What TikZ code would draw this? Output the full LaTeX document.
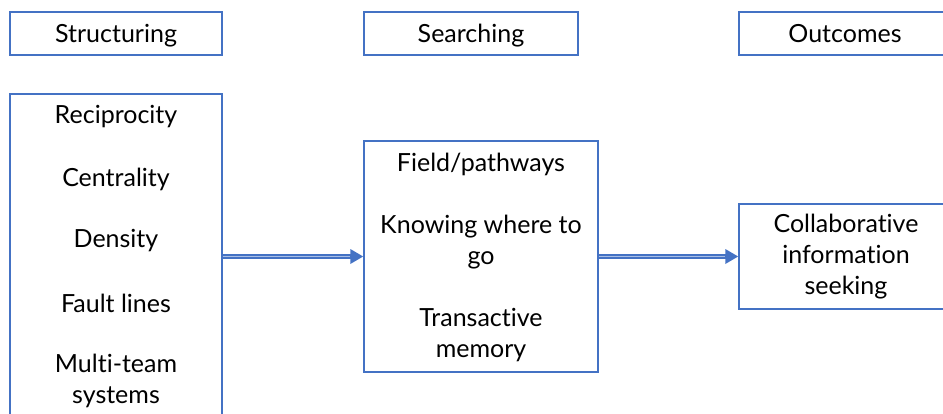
\documentclass[tikz,border=0pt]{standalone}
\usepackage{fontspec}
\setmainfont{Lato}[Ligatures=NoCommon]
\usetikzlibrary{arrows.meta}
\definecolor{boxblue}{HTML}{4472C4}
\definecolor{lineblue}{HTML}{A9BFE6}
\begin{document}
\begin{tikzpicture}[x=1pt,y=-1pt,
  every node/.style={font=\fontsize{25}{31}\selectfont, text=black},
  box/.style={draw=boxblue, line width=1.3pt, inner sep=0pt},
  item/.style={align=center, inner sep=0pt},
  headtext/.style={inner sep=0pt, anchor=base},
  flow/.style={draw=boxblue, line width=4.5pt, -{Triangle[length=13pt,width=14pt]}},
  flowcore/.style={draw=lineblue, line width=1.6pt, shorten >=13pt}
]
\useasboundingbox (0,0) rectangle (943,413);
% column headers
\node[box, minimum width=212pt, minimum height=43pt] (hstruct) at (116,33.5) {};
\node[box, minimum width=214pt, minimum height=43pt] (hsearch) at (471,33.5) {};
\node[box, minimum width=214pt, minimum height=43pt] (hout) at (846,33.5) {};
\node[headtext] (tstruct) at (116,42) {Structuring};
\node[headtext] (tsearch) at (471,42) {Searching};
\node[headtext] (tout) at (845,42) {Outcomes};
% content boxes
\node[box, minimum width=212pt, minimum height=340pt] (struct) at (116,264) {};
\node[box, minimum width=234pt, minimum height=231pt] (search) at (481,256.5) {};
\node[box, minimum width=214pt, minimum height=105pt] (out) at (846,256.5) {};
% structuring items
\node[item] (recip) at (116,117) {Reciprocity};
\node[item] (central) at (116,179) {Centrality};
\node[item] (dens) at (116,241) {Density};
\node[item] (fault) at (116,303) {Fault lines};
\node[item] (multi) at (116,380.5) {Multi-team\\systems};
% searching items
\node[item] (field) at (481,164) {Field/pathways};
\node[item] (know) at (481,242) {Knowing where to\\go};
\node[item] (trans) at (481,335.5) {Transactive\\memory};
% outcome
\node[item] (collab) at (846,257) {Collaborative\\information\\seeking};
% connectors
\coordinate (a1s) at (struct.east |- 0,256.5);
\coordinate (a1e) at (search.west |- 0,256.5);
\coordinate (a2s) at (search.east |- 0,256.5);
\coordinate (a2e) at (out.west |- 0,256.5);
\draw[flow] (a1s) -- (a1e);
\draw[flowcore] (a1s) -- (a1e);
\draw[flow] (a2s) -- (a2e);
\draw[flowcore] (a2s) -- (a2e);
\end{tikzpicture}
\end{document}
